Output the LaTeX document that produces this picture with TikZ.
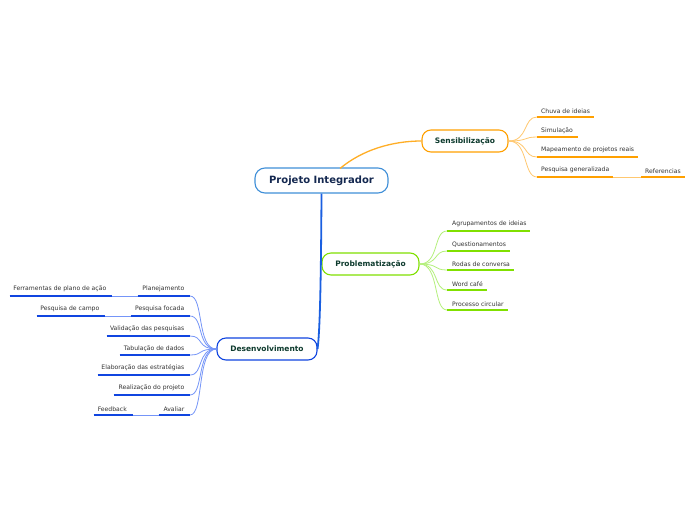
\documentclass[tikz,border=0pt]{standalone}
\usepackage{fontspec}
\setmainfont{DejaVu Sans}
\definecolor{txt}{HTML}{333333}
\definecolor{txtg}{HTML}{0E3B2E}
\definecolor{navy}{HTML}{142850}
\definecolor{cblue}{HTML}{3F8FD8}
\definecolor{orU}{HTML}{FFA000}
\definecolor{orC}{HTML}{FFC870}
\definecolor{grU}{HTML}{80E000}
\definecolor{grC}{HTML}{B4F07C}
\definecolor{blU}{HTML}{1045E0}
\definecolor{blC}{HTML}{7595F8}
\definecolor{blM}{HTML}{1A5FE0}
\newcommand\leafL[2]{\makebox[#1pt][l]{\hspace{4pt}#2}}
\newcommand\leafR[2]{\makebox[#1pt][r]{#2\hspace{5.5pt}}}
\tikzset{
  hub/.style={draw, rounded corners=9pt, fill=white, line width=1.1pt, inner sep=0pt,
    minimum height=22pt, font=\bfseries\fontsize{7.5}{8.5}\selectfont, text=txtg},
  leaf/.style={inner xsep=0pt, inner ysep=3.6pt, font=\fontsize{6.1}{7}\selectfont, text=txt},
  ulO/.style={draw=orU, line width=1.6pt},
  ulG/.style={draw=grU, line width=1.6pt},
  ulB/.style={draw=blU, line width=1.6pt},
  cnO/.style={draw=orC, line width=0.8pt},
  cnG/.style={draw=grC, line width=0.8pt},
  cnB/.style={draw=blC, line width=0.8pt},
}
\begin{document}
\begin{tikzpicture}[x=1pt,y=-1pt]
\useasboundingbox[fill=white] (0,0) rectangle (696,520);

% main nodes
\node[hub, draw=cblue, rounded corners=10pt, minimum width=133pt, minimum height=25pt,
  font=\bfseries\fontsize{10}{11}\selectfont, text=navy] (pi) at (321.5,180.5) {Projeto Integrador};
\node[hub, draw=orU, minimum width=86pt] (sen) at (465,141) {Sensibilização};
\node[hub, draw=grU, minimum width=97pt] (pro) at (370.5,264) {Problematização};
\node[hub, draw=blU, minimum width=100pt] (des) at (267,349) {Desenvolvimento};

% main connectors
\draw[draw=orU!85, line width=1.3pt] (340,168.5) coordinate (piS)
  .. controls (362,150) and (392,141) .. (sen.west);
\draw[draw=blM, line width=1.8pt] (pi.south) .. controls (321,280) and (320,330) .. (des.east);

% Sensibilizacao leaves
\node[leaf, anchor=south west] (s1) at (537,117) {\leafL{57}{Chuva de ideias}};
\node[leaf, anchor=south west] (s2) at (537,137) {\leafL{41}{Simulação}};
\node[leaf, anchor=south west] (s3) at (537,157) {\leafL{101}{Mapeamento de projetos reais}};
\node[leaf, anchor=south west] (s4) at (537,177) {\leafL{76}{Pesquisa generalizada}};
\node[leaf, anchor=south west] (s5) at (641,177) {\leafL{44}{Referencias}};
\foreach \n in {s1,s2,s3,s4}
  \draw[cnO] (sen.east) .. controls +(20,0) and +(-14,0) .. (\n.south west);
\draw[cnO] (s4.south east) -- (s5.south west);
\foreach \n in {s1,s2,s3,s4,s5}
  \draw[ulO] (\n.south west) -- (\n.south east);

% Problematizacao leaves
\node[leaf, anchor=south west] (p1) at (447,231) {\leafL{83}{\hspace{1pt}Agrupamentos de ideias}};
\node[leaf, anchor=south west] (p2) at (447,251) {\leafL{63}{\hspace{1pt}Questionamentos}};
\node[leaf, anchor=south west] (p3) at (447,270) {\leafL{67}{\hspace{1pt}Rodas de conversa}};
\node[leaf, anchor=south west] (p4) at (447,290) {\leafL{40}{\hspace{1pt}Word café}};
\node[leaf, anchor=south west] (p5) at (447,310) {\leafL{61}{\hspace{1pt}Processo circular}};
\foreach \n in {p1,p2,p3,p4,p5}
  \draw[cnG] (pro.east) .. controls +(20,0) and +(-14,0) .. (\n.south west);
\foreach \n in {p1,p2,p3,p4,p5}
  \draw[ulG] (\n.south west) -- (\n.south east);

% Desenvolvimento leaves
\node[leaf, anchor=south east] (d1) at (190,296) {\leafR{52}{Planejamento}};
\node[leaf, anchor=south east] (d1a) at (112,296) {\leafR{102}{Ferramentas de plano de ação}};
\node[leaf, anchor=south east] (d2) at (190,316) {\leafR{59}{Pesquisa focada}};
\node[leaf, anchor=south east] (d2a) at (105,316) {\leafR{68}{Pesquisa de campo}};
\node[leaf, anchor=south east] (d3) at (190,336) {\leafR{83}{Validação das pesquisas}};
\node[leaf, anchor=south east] (d4) at (190,355) {\leafR{70}{Tabulação de dados}};
\node[leaf, anchor=south east] (d5) at (190,375) {\leafR{92}{Elaboração das estratégias}};
\node[leaf, anchor=south east] (d6) at (190,395) {\leafR{76}{Realização do projeto}};
\node[leaf, anchor=south east] (d7) at (190,415) {\leafR{31}{Avaliar}};
\node[leaf, anchor=south east] (d7a) at (133,415) {\leafL{39}{Feedback}};
\foreach \n in {d1,d2,d3,d4,d5,d6,d7}
  \draw[cnB] (des.west) .. controls +(-20,0) and +(14,0) .. (\n.south east);
\draw[cnB] (d1a.south east) -- (d1.south west);
\draw[cnB] (d2a.south east) -- (d2.south west);
\draw[cnB] (d7a.south east) -- (d7.south west);
\foreach \n in {d1,d1a,d2,d2a,d3,d4,d5,d6,d7,d7a}
  \draw[ulB] (\n.south west) -- (\n.south east);
\end{tikzpicture}
\end{document}
